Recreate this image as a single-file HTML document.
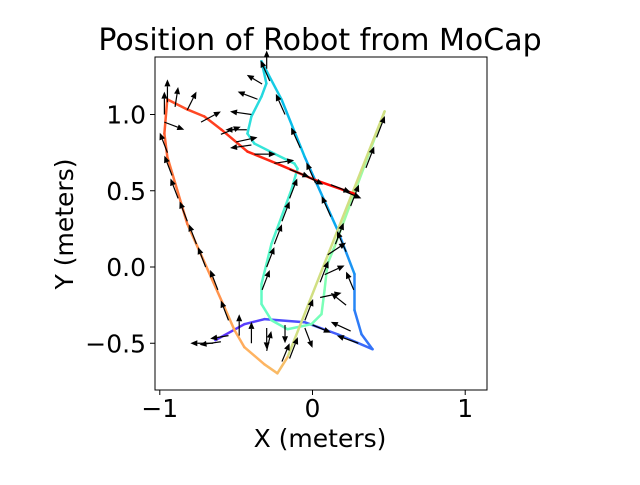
<!DOCTYPE html>
<html><head><meta charset="utf-8"><style>
body{margin:0;background:#fff;}
svg text{font-family:"DejaVu Sans","Liberation Sans",sans-serif;fill:#000;}
</style></head><body>
<svg id="chart" width="640" height="480" viewBox="0 0 640 480">
<text x="320" y="50" font-size="30" text-anchor="middle">Position of Robot from MoCap</text>
<g id="plot"></g>
<rect x="155" y="57" width="332" height="333" fill="none" stroke="#000" stroke-width="1"/>
<g id="axes"></g>
<text x="320" y="447" font-size="25" text-anchor="middle">X (meters)</text>
<text transform="translate(73,224) rotate(-90)" font-size="25" text-anchor="middle">Y (meters)</text>
</svg>
<script>
const pathX=[-0.636,-0.446,-0.315,-0.052,0.164,0.393,0.321,0.275,0.275,0.164,-0.052,-0.203,-0.334,-0.302,-0.334,-0.4,-0.426,-0.38,-0.249,-0.118,-0.098,-0.138,-0.203,-0.269,-0.334,-0.334,-0.269,-0.164,-0.007,0.059,0.079,0.098,0.144,0.472,-0.164,-0.23,-0.315,-0.446,-0.511,-0.577,-0.82,-0.951,-0.97,-0.951,-0.82,-0.708,-0.597,-0.426,-0.216,0.013,0.275];
const pathY=[-0.48,-0.375,-0.342,-0.362,-0.441,-0.539,-0.441,-0.283,-0.046,0.243,0.724,1.099,1.349,1.204,1.118,0.987,0.875,0.809,0.743,0.678,0.645,0.507,0.329,0.151,-0.112,-0.243,-0.349,-0.408,-0.375,-0.309,-0.151,0.02,0.132,1.02,-0.592,-0.697,-0.638,-0.526,-0.414,-0.263,0.283,0.724,0.875,1.099,1.033,0.987,0.901,0.757,0.671,0.572,0.48];
const arrowX=[-0.55,-0.62,-0.70,-0.76,-0.82,-0.88,-0.92,-0.95,-0.97,-0.97,-0.48,-0.4,-0.3,-0.2,-0.95,-0.9,-0.82,-0.73,-0.6,-0.5,-0.38,-0.25,-0.15,-0.05,0.12,0.2,-0.3,-0.33,-0.36,-0.4,-0.43,-0.4,0.22,0.12,0.02,-0.08,-0.18,-0.28,0.3,0.25,0.22,0.27,-0.15,-0.2,-0.25,-0.3,-0.33,0.05,0.08,0.1,0.0,-0.3,-0.18,-0.05,-0.55,-0.65,-0.6,-0.15,-0.05,0.05,0.15,0.25,0.35,0.42];
const arrowY=[-0.35,-0.15,0.0,0.15,0.3,0.45,0.6,0.75,1.0,0.95,-0.45,-0.5,-0.55,-0.62,1.08,1.05,1.03,0.95,0.87,0.82,0.74,0.68,0.64,0.6,0.54,0.5,1.3,1.2,1.1,1.0,0.9,0.8,0.1,0.33,0.55,0.78,1.0,1.22,-0.5,-0.42,-0.25,-0.15,0.45,0.3,0.15,0.0,-0.15,-0.2,-0.05,0.08,-0.38,-0.4,-0.38,-0.4,-0.45,-0.5,-0.49,-0.6,-0.35,-0.1,0.15,0.4,0.65,0.85];
const arrowU=[-0.05,-0.05,-0.05,-0.05,-0.05,-0.05,-0.05,-0.05,0,0.13,0,0,0.03,0.05,0,0.02,0.06,0.13,0.13,0.14,0.14,0.13,0.13,0.12,0.13,0.12,0,-0.1,-0.13,-0.14,-0.14,-0.14,-0.06,-0.06,-0.06,-0.06,-0.06,-0.06,-0.14,-0.13,-0.1,-0.05,0.05,0.05,0.05,0.05,0.05,0.14,0.13,0.12,0.12,0,0,0.05,-0.12,-0.15,-0.14,0.054,0.054,0.054,0.054,0.054,0.054,0.054];
const arrowV=[0.13,0.13,0.13,0.13,0.13,0.13,0.13,0.13,0.15,-0.05,0.14,0.14,0.13,0.12,0.15,0.13,0.12,0.07,0.05,0.03,0,0.02,-0.05,-0.06,-0.05,-0.05,0.12,0.06,0.05,0.02,0,-0.02,0.135,0.135,0.135,0.135,0.135,0.135,0.05,0.06,0.08,0.12,0.13,0.13,0.13,0.13,0.13,0.03,0.06,0.08,-0.05,-0.14,-0.12,-0.13,-0.02,0,-0.02,0.14,0.14,0.14,0.14,0.14,0.14,0.14];
const xTicks=[-1,0,1];
const yTicks=[-0.5,0.0,0.5,1.0];
const yTickLabels=["\u22120.5","0.0","0.5","1.0"];
const xTickLabels=["\u22121","0","1"];

const NS="http://www.w3.org/2000/svg";
const sx=v=>312.5+v*152.7;
const sy=v=>267-v*152.5;
function rainbow(t){
  const r=Math.min(1,Math.abs(2*t-0.5)),g=Math.sin(Math.PI*t),b=Math.cos(Math.PI*t/2);
  return `rgb(${Math.round(r*255)},${Math.round(g*255)},${Math.round(b*255)})`;
}
const plot=document.getElementById('plot');
const n=pathX.length;
const cum=[0];
for(let i=1;i<n;i++){cum.push(cum[i-1]+Math.hypot(pathX[i]-pathX[i-1],pathY[i]-pathY[i-1]));}
const total=cum[n-1];
for(let i=0;i<n-1;i++){
  const l=document.createElementNS(NS,'line');
  l.setAttribute('x1',sx(pathX[i]));l.setAttribute('y1',sy(pathY[i]));
  l.setAttribute('x2',sx(pathX[i+1]));l.setAttribute('y2',sy(pathY[i+1]));
  const t=0.06+0.94*((cum[i]+cum[i+1])/2)/total;
  l.setAttribute('stroke',rainbow(t));l.setAttribute('stroke-width','2.5');l.setAttribute('stroke-linecap','round');
  
  
  plot.appendChild(l);
}
for(let i=0;i<arrowX.length;i++){
  const x1=sx(arrowX[i]),y1=sy(arrowY[i]),x2=sx(arrowX[i]+arrowU[i]),y2=sy(arrowY[i]+arrowV[i]);
  const a=Math.atan2(y2-y1,x2-x1),h=7,w=3;
  const bx=x2-h*Math.cos(a),by=y2-h*Math.sin(a);
  const g=document.createElementNS(NS,'g');
  
  
  const s=document.createElementNS(NS,'line');
  s.setAttribute('x1',x1);s.setAttribute('y1',y1);s.setAttribute('x2',bx);s.setAttribute('y2',by);
  s.setAttribute('stroke','#000');s.setAttribute('stroke-width','1.2');
  g.appendChild(s);
  const p=document.createElementNS(NS,'polygon');
  const px=-Math.sin(a)*w,py=Math.cos(a)*w;
  p.setAttribute('points',`${x2},${y2} ${bx+px},${by+py} ${bx-px},${by-py}`);
  p.setAttribute('fill','#000');
  g.appendChild(p);
  plot.appendChild(g);
}
const axes=document.getElementById('axes');
xTicks.forEach((v,i)=>{
  const x=sx(v);
  const t=document.createElementNS(NS,'line');
  t.setAttribute('x1',x);t.setAttribute('x2',x);t.setAttribute('y1',390);t.setAttribute('y2',395);t.setAttribute('stroke','#000');
  
  
  axes.appendChild(t);
  const tx=document.createElementNS(NS,'text');
  tx.setAttribute('x',x);tx.setAttribute('y',417);tx.setAttribute('font-size','25');tx.setAttribute('text-anchor','middle');
  tx.textContent=xTickLabels[i];
  
  
  axes.appendChild(tx);
});
yTicks.forEach((v,i)=>{
  const y=sy(v);
  const t=document.createElementNS(NS,'line');
  t.setAttribute('x1',150);t.setAttribute('x2',155);t.setAttribute('y1',y);t.setAttribute('y2',y);t.setAttribute('stroke','#000');
  
  
  axes.appendChild(t);
  const tx=document.createElementNS(NS,'text');
  tx.setAttribute('x',146);tx.setAttribute('y',y+9);tx.setAttribute('font-size','25');tx.setAttribute('text-anchor','end');
  tx.textContent=yTickLabels[i];
  
  
  axes.appendChild(tx);
});
</script>
</body></html>
